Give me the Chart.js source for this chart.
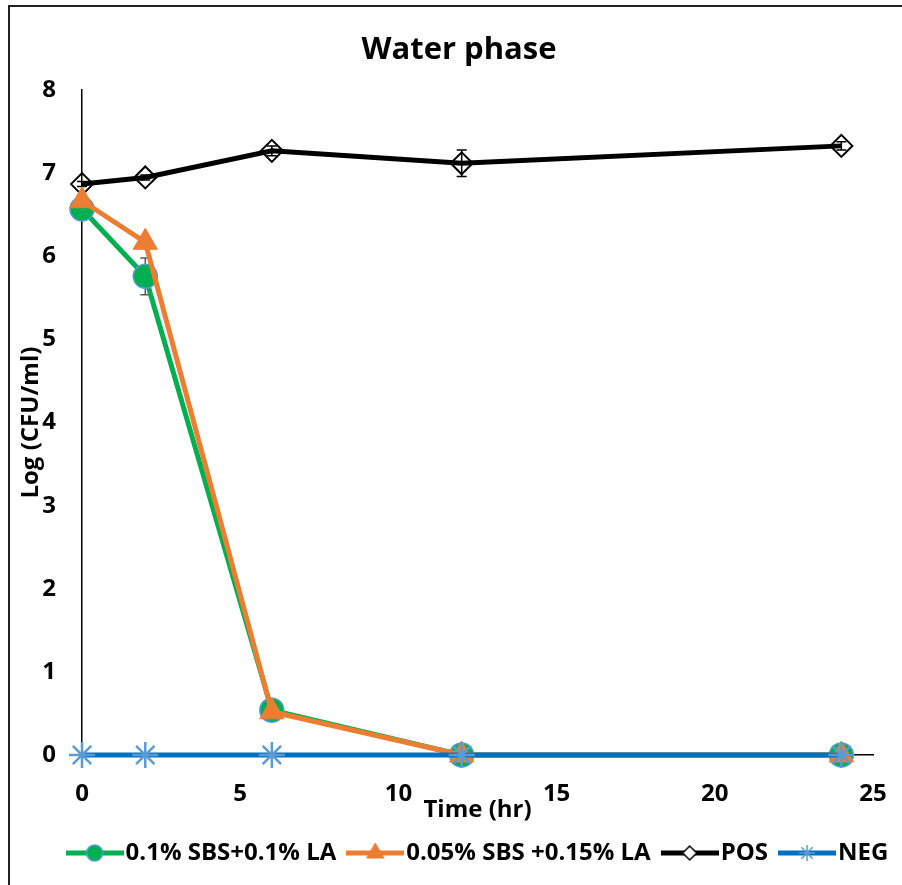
<!DOCTYPE html>
<html>
<head>
<meta charset="utf-8">
<title>Water phase</title>
<script src="https://cdn.jsdelivr.net/npm/chart.js@4.4.0/dist/chart.umd.min.js"></script>
<style>
  html, body { margin: 0; padding: 0; background: #fff; overflow: hidden; }
  #moldura { position: absolute; left: 8px; top: 5px; width: 1000px; height: 1000px; border: 2px solid #222; box-sizing: border-box; }
  #area { position: absolute; left: 0; top: 0; width: 902px; height: 885px; }
</style>
</head>
<body>
<div id="moldura"></div>
<div id="area"><canvas id="grafico" width="902" height="885"></canvas></div>
<script>
// Tempo (h) e Log (CFU/ml) de cada tratamento
const horas = [0, 2, 6, 12, 24];
const sbs01 = [6.57, 5.76, 0.54, 0, 0];
const sbs005 = [6.67, 6.17, 0.52, 0, 0];
const pos = [6.87, 6.95, 7.27, 7.12, 7.33];
const neg = [0, 0, 0, 0, 0];

// Desvios (barras de erro)
const erroSbs01 = [0.03, 0.22, 0.03, 0, 0];
const erroSbs005 = [0.03, 0.04, 0.03, 0, 0];
const erroPos = [0.03, 0.03, 0.06, 0.16, 0.05];

const ticksX = [0, 5, 10, 15, 20, 25];
const ticksY = [0, 1, 2, 3, 4, 5, 6, 7, 8];

const FONTE = '"Open Sans", Lato, sans-serif';
const fonte = (size) => ({ family: FONTE, size, weight: 'bold' });

const pontos = (ys) => horas.map((x, i) => ({ x, y: ys[i] }));

// Amostra de legenda: linha com o marcador no meio
function amostra(cor, estilo, raio, preenchimento, borda, larguraBorda) {
    const c = document.createElement('canvas');
    c.width = 58;
    c.height = 26;
    const ctx = c.getContext('2d');
    ctx.strokeStyle = cor;
    ctx.lineWidth = 5;
    ctx.beginPath();
    ctx.moveTo(0, 13);
    ctx.lineTo(58, 13);
    ctx.stroke();
    ctx.fillStyle = preenchimento;
    ctx.strokeStyle = borda;
    ctx.lineWidth = larguraBorda;
    Chart.helpers.drawPoint(ctx, { pointStyle: estilo, radius: raio, rotation: 0, borderWidth: larguraBorda }, 29, 13);
    return c;
}

// Barras de erro desenhadas antes das linhas
const barrasErro = {
    id: 'barrasErro',
    beforeDatasetsDraw(chart) {
        const { ctx, scales: { x, y } } = chart;
        chart.data.datasets.forEach((ds) => {
            if (!ds.erros) return;
            ctx.save();
            ctx.strokeStyle = ds.corErro;
            ctx.lineWidth = 1.5;
            ds.data.forEach((p, j) => {
                const e = ds.erros[j];
                if (!e) return;
                const px = x.getPixelForValue(p.x);
                const y1 = y.getPixelForValue(p.y + e);
                const y2 = y.getPixelForValue(p.y - e);
                ctx.beginPath();
                ctx.moveTo(px, y1); ctx.lineTo(px, y2);
                ctx.moveTo(px - 5, y1); ctx.lineTo(px + 5, y1);
                ctx.moveTo(px - 5, y2); ctx.lineTo(px + 5, y2);
                ctx.stroke();
            });
            ctx.restore();
        });
    }
};

// Legenda deslocada para ficar sob a área de plotagem; título um pouco à direita
const ajusteCaixas = {
    id: 'ajusteCaixas',
    afterLayout(chart) {
        if (chart.legend) {
            chart.legend.left += 31;
            chart.legend.right += 31;
        }
        if (chart.titleBlock) chart.titleBlock.left += 16;
    }
};

const amostras = [
    amostra('#00B050', 'circle', 8, '#00B050', '#5B9BD5', 1.5),
    amostra('#ED7D31', 'triangle', 10, '#ED7D31', '#ED7D31', 1),
    amostra('#000000', 'rectRot', 7, '#ffffff', '#000000', 1.5),
    amostra('#0070C0', 'star', 8, '#5B9BD5', '#5B9BD5', 1.5)
];

new Chart(document.getElementById('grafico'), {
    type: 'line',
    data: {
        datasets: [
            {
                label: '0.1% SBS+0.1% LA',
                data: pontos(sbs01),
                erros: erroSbs01,
                corErro: '#595959',
                borderColor: '#00B050',
                borderWidth: 5,
                pointStyle: 'circle',
                pointRadius: 12,
                pointBackgroundColor: '#00B050',
                pointBorderColor: '#5B9BD5',
                pointBorderWidth: 1.5,
                clip: false,
                order: 2
            },
            {
                label: '0.05% SBS +0.15% LA',
                data: pontos(sbs005),
                erros: erroSbs005,
                corErro: '#595959',
                borderColor: '#ED7D31',
                borderWidth: 5,
                pointStyle: 'triangle',
                pointRadius: 14,
                pointBackgroundColor: '#ED7D31',
                pointBorderColor: '#ED7D31',
                pointBorderWidth: 1,
                clip: false,
                order: 1
            },
            {
                label: 'POS',
                data: pontos(pos),
                erros: erroPos,
                corErro: '#000000',
                borderColor: '#000000',
                borderWidth: 5,
                pointStyle: 'rectRot',
                pointRadius: 11,
                pointBackgroundColor: 'rgba(255,255,255,0)',
                pointBorderColor: '#000000',
                pointBorderWidth: 2,
                clip: false,
                order: 3
            },
            {
                label: 'NEG',
                data: pontos(neg),
                borderColor: '#0070C0',
                borderWidth: 5,
                pointStyle: 'star',
                pointRadius: 13,
                pointBackgroundColor: '#5B9BD5',
                pointBorderColor: '#5B9BD5',
                pointBorderWidth: 2.5,
                clip: false,
                order: 0
            }
        ]
    },
    options: {
        responsive: false,
        animation: false,
        devicePixelRatio: 1,
        layout: { padding: { left: 0, right: 0, top: 0, bottom: 10 } },
        elements: { line: { tension: 0 } },
        plugins: {
            tooltip: { enabled: false },
            title: {
                display: true,
                text: 'Water phase',
                color: '#000',
                font: fonte(31),
                padding: { top: 32, bottom: 21 }
            },
            legend: {
                position: 'bottom',
                labels: {
                    color: '#000',
                    font: fonte(24),
                    usePointStyle: true,
                    pointStyleWidth: 38,
                    padding: 20,
                    generateLabels: (chart) => chart.data.datasets.map((ds, i) => ({
                        text: ds.label,
                        fillStyle: ds.borderColor,
                        strokeStyle: ds.borderColor,
                        lineWidth: 0,
                        pointStyle: amostras[i],
                        fontColor: '#000',
                        hidden: false,
                        datasetIndex: i
                    }))
                }
            }
        },
        scales: {
            x: {
                type: 'linear',
                min: ticksX[0],
                max: ticksX[ticksX.length - 1],
                afterBuildTicks: (s) => { s.ticks = ticksX.map(v => ({ value: v })); },
                afterFit: (s) => { s.height = 66; s.paddingLeft = 0; s.paddingRight = 29; },
                grid: { display: false, drawTicks: false },
                border: { display: true, color: '#000', width: 1.5 },
                ticks: { color: '#000', padding: 25, maxRotation: 0, font: fonte(24) },
                title: {
                    display: true,
                    text: 'Time (hr)',
                    color: '#000',
                    font: fonte(24),
                    padding: { top: 0, bottom: -4 }
                }
            },
            y: {
                min: ticksY[0],
                max: ticksY[ticksY.length - 1],
                afterBuildTicks: (s) => { s.ticks = ticksY.map(v => ({ value: v })); },
                afterFit: (s) => { s.width = 82; },
                grid: { display: false, drawTicks: false },
                border: { display: true, color: '#000', width: 1.5 },
                ticks: { color: '#000', padding: 26, font: fonte(24) },
                title: {
                    display: true,
                    text: 'Log (CFU/ml)',
                    color: '#000',
                    font: fonte(24),
                    padding: { top: 17, bottom: 0 }
                }
            }
        }
    },
    plugins: [barrasErro, ajusteCaixas]
});
</script>
</body>
</html>
